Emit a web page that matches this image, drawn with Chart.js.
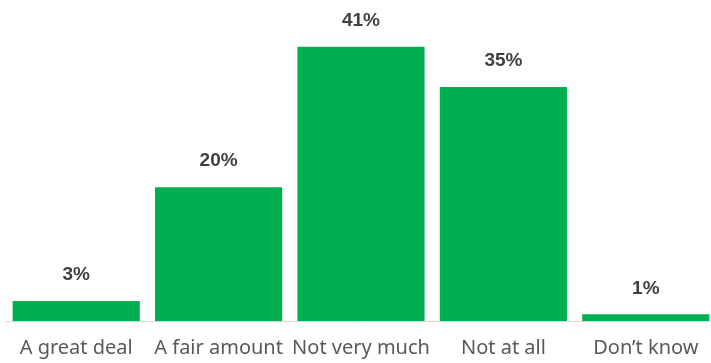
<!DOCTYPE html>
<html>
<head>
<meta charset="utf-8">
<script src="https://cdn.jsdelivr.net/npm/chart.js@4"></script>
<style>
  html, body { margin: 0; padding: 0; background: #fff; overflow: hidden; }
  #wrap { width: 717px; height: 363px; }
</style>
</head>
<body>
<div id="wrap"><canvas id="trustChart"></canvas></div>
<script>
  const categories = ["A great deal", "A fair amount", "Not very much", "Not at all", "Don\u2019t know"];
  const shares = [3, 20, 41, 35, 1];

  // writes the percentage above each bar
  const valueLabels = {
    id: "valueLabels",
    afterDatasetsDraw(chart) {
      const ctx = chart.ctx;
      const meta = chart.getDatasetMeta(0);
      ctx.save();
      ctx.font = "bold 19px 'Liberation Sans', Arial, sans-serif";
      ctx.fillStyle = "#404040";
      ctx.textAlign = "center";
      ctx.textBaseline = "middle";
      meta.data.forEach((bar, i) => {
        ctx.fillText(shares[i] + "%", bar.x, bar.y - 26);
      });
      ctx.restore();
    },
  };

  new Chart(document.getElementById("trustChart"), {
    type: "bar",
    data: {
      labels: categories,
      datasets: [
        {
          data: shares,
          backgroundColor: "#00B050",
          barPercentage: 0.893,
          categoryPercentage: 1,
        },
      ],
    },
    options: {
      responsive: true,
      maintainAspectRatio: false,
      animation: false,
      layout: { padding: { left: 5, right: 0, top: 0, bottom: -4 } },
      plugins: {
        legend: { display: false },
        tooltip: { enabled: false },
      },
      scales: {
        x: {
          grid: { display: false },
          border: { color: "#d9d9d9", width: 1 },
          ticks: {
            color: "#595959",
            padding: 7,
            maxRotation: 0,
            font: { family: "'Noto Sans', sans-serif", size: 20 },
          },
        },
        y: {
          display: false,
          min: 0,
          max: 48,
        },
      },
    },
    plugins: [valueLabels],
  });
</script>
</body>
</html>
